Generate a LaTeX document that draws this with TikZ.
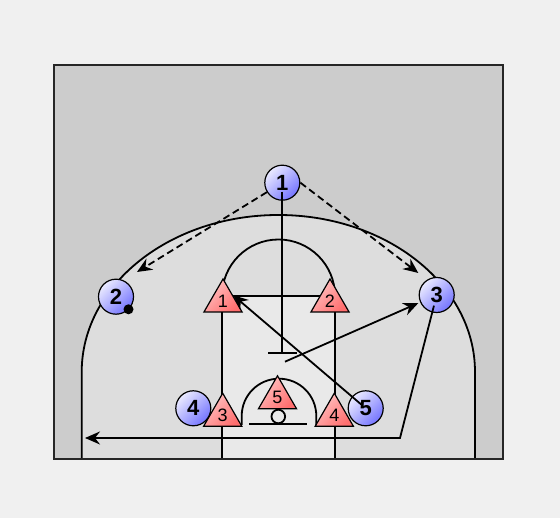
\documentclass[tikz,border=0pt]{standalone}
\usepackage{fontspec}
\setmainfont{Liberation Sans}
\usepackage{xcolor}
\usepackage{tikz}
\usetikzlibrary{shapes,arrows.meta}

\definecolor{pagegray}{HTML}{F0F0F0}
\definecolor{courtgray}{HTML}{CCCCCC}
\definecolor{arcgray}{HTML}{DDDDDD}
\definecolor{lanegray}{HTML}{E9E9E9}
\definecolor{offlight}{HTML}{EAEAFF}
\definecolor{offdark}{HTML}{7474FF}
\definecolor{deflight}{HTML}{FFC4C4}
\definecolor{defdark}{HTML}{FF6E6E}

\begin{document}
\begin{tikzpicture}[x=1pt, y=1pt, line width=1.8pt,
  player/.style={circle, draw, line width=1.2pt, minimum size=35, inner sep=0, top color=offlight, bottom color=offdark, shading angle=45, font=\fontsize{22}{22}\selectfont\bfseries},
  defender/.style={regular polygon, regular polygon sides=3, draw, line width=1.2pt, minimum size=44, inner sep=0, top color=deflight, bottom color=defdark, shading angle=45, font=\fontsize{18}{18}\selectfont},
  pass/.style={dash pattern=on 7pt off 4pt},
  tip/.style={-{Stealth[length=15pt, width=13pt, inset=5pt]}}]
%court
\fill[pagegray] (0,0) rectangle (560,518);
\fill[courtgray] (53.5,59) rectangle (502.5,453);
\fill[arcgray] (81.7,59) -- (81.7,146) arc[start angle=180, end angle=0, x radius=196.65, y radius=157] -- (475,59) -- cycle;
\fill[lanegray] (222,59) rectangle (335,222);
\draw (81.7,59) -- (81.7,146) arc[start angle=180, end angle=0, x radius=196.65, y radius=157] -- (475,59);
\draw (222,59) -- (222,222) -- (335,222) -- (335,59);
\draw (222,222) arc[start angle=180, end angle=0, radius=56.5];
\draw (241.7,93) -- (241.7,102) arc[start angle=180, end angle=0, radius=37.3] -- (316.3,93);
\draw (249,93.7) -- (306.7,93.7);
\draw (278.3,101.5) circle[radius=6.8];
\draw[draw=black!85, line width=2pt] (53.5,59) rectangle (502.5,453);

\node[player] (p4) at (193.3,109.7) {4};
\node[defender] (d1) at (223,217) {1};
\node[defender] (d2) at (330,217) {2};
\node[defender] (d3) at (222.7,102.8) {3};
\node[defender] (d4) at (334.3,102.8) {4};
\node[defender] (d5) at (277.5,120.2) {5};
\node[player] (p1) at (282.3,335.3) {1};
\node[player] (p2) at (116,221.3) {2};
\node[player] (p3) at (436.7,223) {3};
\node[player] (p5) at (365.7,109.7) {5};
\node[circle, fill=black, minimum size=10, inner sep=0] (ball) at (128.5,208.7) {};

\coordinate (c2) at (137,246);
\coordinate (c3) at (418.3,245);
\coordinate (scr) at (282.3,164);
\coordinate (cut) at (285,156.3);
\coordinate (bend) at (400,80);
\coordinate (base) at (85,80);

\draw [pass, tip] (p1) -- (c2);
\draw [pass, tip] (p1.east) -- (c3);
\draw [-{Bar[width=29pt]}, shorten <=9pt] (p1.center) -- (scr);
\draw [tip, shorten >=2pt] (cut) -- (p3);
\draw [tip, shorten <=6pt] (p5.center) -- (d1.side 3);
\draw [tip, shorten <=11pt] (p3.center) -- (bend) -- (base);
\end{tikzpicture}
\end{document}
